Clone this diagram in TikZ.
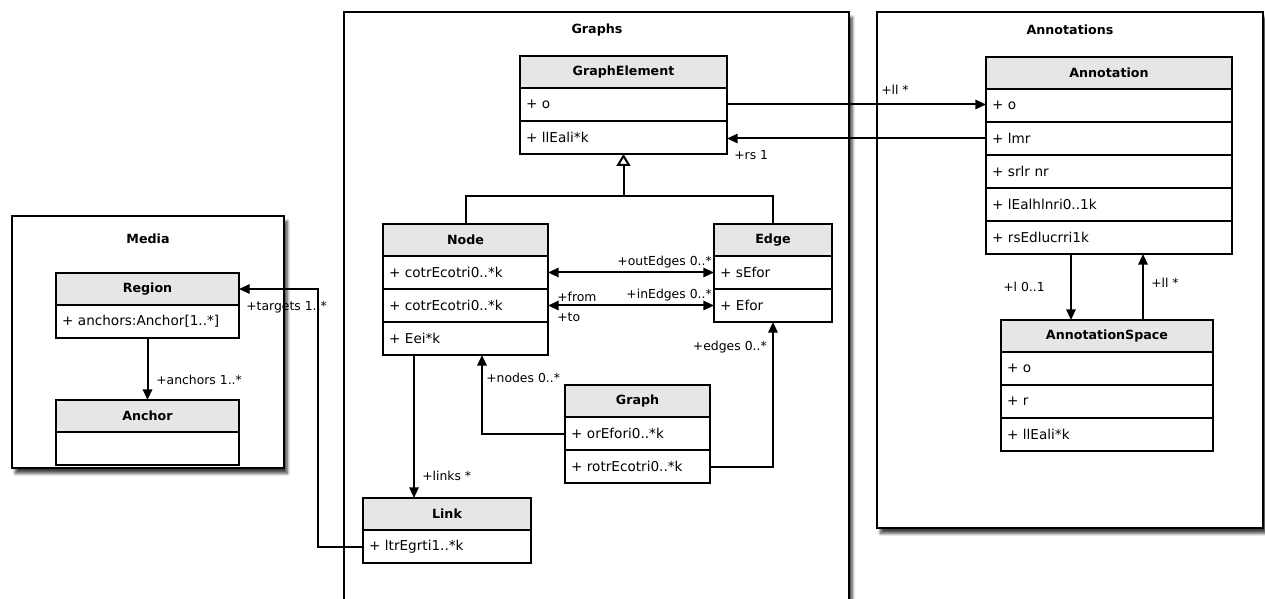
\documentclass[tikz,border=0pt]{standalone}
\usepackage{fontspec}
\setmainfont{DejaVu Sans}
\usetikzlibrary{arrows.meta,shadows.blur,calc}
\definecolor{hdrgray}{HTML}{E6E6E6}
\tikzset{
  px/.style={x=0.75pt,y=-0.75pt},
  pkg/.style={draw, line width=1.5pt, fill=white, anchor=north west, inner sep=0pt, outer sep=0pt,
    blur shadow={shadow xshift=2.5pt, shadow yshift=-4pt, shadow blur steps=7, shadow opacity=75}},
  pkgtitle/.style={font=\fontsize{9.5}{11}\selectfont\bfseries},
  hdr/.style={draw, line width=1.5pt, fill=hdrgray, anchor=north west, outer sep=0pt, inner ysep=0pt, inner xsep=6*0.75pt,
    text width=(#1-12)*0.75pt, align=center, minimum height=32*0.75pt,
    font=\fontsize{9.5}{11}\selectfont\bfseries},
  row/.style={draw, line width=1.5pt, fill=white, anchor=north west, outer sep=0pt, inner ysep=0pt, inner xsep=6*0.75pt,
    text width=(#1-12)*0.75pt, align=left, minimum height=33*0.75pt,
    font=\fontsize{10.2}{12}\selectfont},
  lbl/.style={font=\fontsize{9.3}{11}\selectfont, inner sep=0pt},
  assoc/.style={line width=1.5pt, -{Triangle[length=8pt,width=7pt]}},
  both/.style={line width=1.5pt, {Triangle[length=8pt,width=7pt]}-{Triangle[length=8pt,width=7pt]}},
  plain/.style={line width=1.5pt},
  gen/.style={line width=1.5pt, -{Triangle[open,length=9pt,width=10.5pt,fill=white]}},
}
\begin{document}
\begin{tikzpicture}[px]
\useasboundingbox (0,0) rectangle (1265,599);

% packages
\node[pkg, minimum width=272*0.75pt, minimum height=252*0.75pt] (media) at (12,216) {};
\node[pkgtitle] (mediaT) at (148,239) {Media};
\node[pkg, minimum width=505*0.75pt, minimum height=590*0.75pt] (graphs) at (344,12) {};
\node[pkgtitle] (graphsT) at (597,30) {Graphs};
\node[pkg, minimum width=386*0.75pt, minimum height=516*0.75pt] (annots) at (877,12) {};
\node[pkgtitle] (annotsT) at (1070,30) {Annotations};

% Media classes
\node[hdr=183] (region) at (56,273) {Region};
\node[row=183] (region1) at (region.south west) {+ anchors:Anchor[1..*]};
\node[hdr=183] (anchor) at (56,400) {Anchor};
\node[row=183] (anchor1) at (anchor.south west) {};

% Graphs classes
\node[hdr=207] (ge) at (520,56) {GraphElement};
\node[row=207] (ge1) at (ge.south west) {+ o};
\node[row=207] (ge2) at (ge1.south west) {+ llEali*k};

\node[hdr=165] (node) at (383,224) {Node};
\node[row=165] (node1) at (node.south west) {+ cotrEcotri0..*k};
\node[row=165] (node2) at (node1.south west) {+ cotrEcotri0..*k};
\node[row=165] (node3) at (node2.south west) {+ Eei*k};

\node[hdr=118] (edge) at (714,224) {Edge};
\node[row=118] (edge1) at (edge.south west) {+ sEfor};
\node[row=118] (edge2) at (edge1.south west) {+ Efor};

\node[hdr=145] (graph) at (565,385) {Graph};
\node[row=145] (graph1) at (graph.south west) {+ orEfori0..*k};
\node[row=145] (graph2) at (graph1.south west) {+ rotrEcotri0..*k};

\node[hdr=168] (link) at (363,498) {Link};
\node[row=168] (link1) at (link.south west) {+ ltrEgrti1..*k};

% Annotations classes
\node[hdr=246] (an) at (986,57) {Annotation};
\node[row=246] (an1) at (an.south west) {+ o};
\node[row=246] (an2) at (an1.south west) {+ lmr};
\node[row=246] (an3) at (an2.south west) {+ srlr nr};
\node[row=246] (an4) at (an3.south west) {+ lEalhlnri0..1k};
\node[row=246] (an5) at (an4.south west) {+ rsEdlucrri1k};

\node[hdr=212] (as) at (1001,320) {AnnotationSpace};
\node[row=212] (as1) at (as.south west) {+ o};
\node[row=212] (as2) at (as1.south west) {+ r};
\node[row=212] (as3) at (as2.south west) {+ llEali*k};

% connectors
\draw[assoc] (region1.south) -- (anchor.north);
\node[lbl, anchor=west] (lanchors) at (156,380) {+anchors 1..*};

\coordinate (tgtcorner) at (318,289);
\draw[assoc] (link1.west) -| (tgtcorner) -- (region.east);
\node[lbl, anchor=west] (ltargets) at (246,307) {+targets 1..*};

\draw[assoc] (ge1.east) -- (ge1.east -| an1.west);
\node[lbl, anchor=west] (lll) at (881,90) {+ll *};
\draw[assoc] (an2.west) -- (an2.west -| ge2.east);
\node[lbl, anchor=west] (lrs) at (734,155) {+rs 1};

\coordinate (genj) at (ge2.south |- 0,196);
\draw[plain] (node.north) |- (genj);
\draw[plain] (edge.north) |- (genj);
\draw[gen] (genj) -- (ge2.south);

\draw[both] (node1.east) -- (edge1.west);
\node[lbl, anchor=east] (lout) at (712,262) {+outEdges 0..*};
\draw[both] (node2.east) -- (edge2.west);
\node[lbl, anchor=west] (lfrom) at (557,297) {+from};
\node[lbl, anchor=west] (lto) at (557,317) {+to};
\node[lbl, anchor=east] (lin) at (712,295) {+inEdges 0..*};

\draw[assoc] ([xshift=31*0.75pt]node3.south west) -- ([xshift=51*0.75pt]link.north west);
\node[lbl, anchor=west] (llinks) at (422,476) {+links *};

\draw[assoc] (graph1.west) -| ([xshift=99*0.75pt]node3.south west);
\node[lbl, anchor=west] (lnodes) at (486,378) {+nodes 0..*};

\draw[assoc] (graph2.east) -| (edge2.south);
\node[lbl, anchor=east] (ledges) at (767,347) {+edges 0..*};

\draw[assoc] ([xshift=85*0.75pt]an5.south west) -- ([xshift=70*0.75pt]as.north west);
\node[lbl, anchor=east] (ll01) at (1045,287) {+l 0..1};
\draw[assoc] ([xshift=142*0.75pt]as.north west) -- ([xshift=157*0.75pt]an5.south west);
\node[lbl, anchor=west] (lll2) at (1151,283) {+ll *};
\end{tikzpicture}
\end{document}
